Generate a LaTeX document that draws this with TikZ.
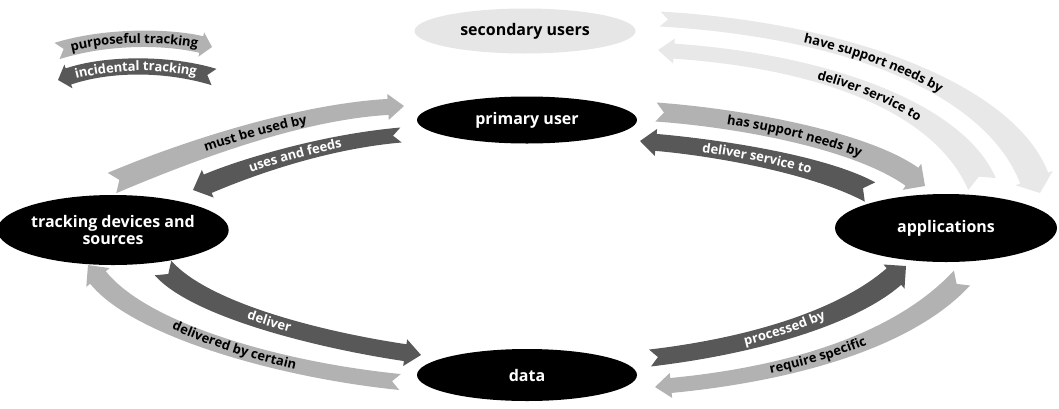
\documentclass[tikz,border=0pt]{standalone}
\usepackage{fontspec}
\setmainfont{Open Sans}
\usetikzlibrary{calc,decorations.text,shapes.geometric}
\definecolor{dk}{HTML}{585858}
\definecolor{md}{HTML}{B2B2B2}
\definecolor{lt}{HTML}{E8E8E8}
\definecolor{sc}{HTML}{E6E6E6}
\tikzset{
  ell/.style={ellipse, fill=black, text=white, inner sep=0pt, align=center,
    font=\bfseries\fontsize{16}{17}\selectfont},
}
\newcommand\rfont{\bfseries\fontsize{13}{13}\selectfont}
\def\hl{16pt}\def\bb{5pt}\def\nd{8pt}
\def\myLind{0pt}\def\myRind{0pt}
% ribbon outline: #1 colour, #2..#5 coordinates from tail to tip, #6 tail width, #7 head width
\newcommand\ribshape[7]{%
  \coordinate (hb) at ($(#5)!\hl!(#4)$);
  \fill[#1] ($(#2)!0.5*#6!90:(#3)$) .. controls ($(#3)!0.5*#6!-90:(#2)$) and ($(#4)!0.5*#7!90:(hb)$) .. ($(hb)!0.5*#7!-90:(#4)$)
    -- ($(hb)!0.5*#7+\bb!-90:(#4)$) -- (#5) -- ($(hb)!0.5*#7+\bb!90:(#4)$) -- ($(hb)!0.5*#7!90:(#4)$)
    .. controls ($(#4)!0.5*#7!-90:(hb)$) and ($(#3)!0.5*#6!90:(#2)$) .. ($(#2)!0.5*#6!-90:(#3)$)
    -- ($(#2)!\nd!(#3)$) -- cycle;
}
\newcommand\ribtext[3]{%
  \path[decorate, decoration={text along path, raise=-4pt,
    text align={center, left indent=\myLind, right indent=\myRind},
    text={|\rfont\color{#1}|#2}}] (q0) .. controls (q1) and (q2) .. (q3);
}
% points given left to right (text direction); #8 width at p0, #9 width at p3
\newcommand\ribF[9]{% head at p3
  \coordinate (q0) at #4; \coordinate (q1) at #5; \coordinate (q2) at #6; \coordinate (q3) at #7;
  \ribshape{#1}{q0}{q1}{q2}{q3}{#8}{#9}
  \ribtext{#2}{#3}{}
}
\newcommand\ribB[9]{% head at p0
  \coordinate (q0) at #4; \coordinate (q1) at #5; \coordinate (q2) at #6; \coordinate (q3) at #7;
  \ribshape{#1}{q3}{q2}{q1}{q0}{#9}{#8}
  \ribtext{#2}{#3}{}
}
\begin{document}
\begin{tikzpicture}[x=1pt,y=-1pt]
\useasboundingbox (0,0) rectangle (1059,408);
% nodes
\node[ell, fill=sc, text=black, minimum width=221pt, minimum height=45pt] (sec) at (525,31) {secondary users};
\node[ell, minimum width=220pt, minimum height=47pt] (pu) at (527,120) {primary user};
\node[ell, minimum width=224pt, minimum height=70pt] (td) at (113,230) {tracking devices and\\sources};
\node[ell, minimum width=222pt, minimum height=68pt] (ap) at (946,228) {applications};
\node[ell, minimum width=220pt, minimum height=52pt] (da) at (527,375) {data};
% legend
\begingroup
\def\hl{11pt}\def\bb{4pt}\def\nd{7pt}
\ribF{md}{black}{purposeful tracking}{(57,51)}{(105,36)}{(165,36)}{(212,47)}{17pt}{17pt}
\ribB{dk}{white}{incidental tracking}{(58,80)}{(108,63)}{(168,63)}{(214,77)}{17pt}{17pt}
\endgroup
% main ribbons
\ribF{md}{black}{must be used by}{(112,183)}{(190,150)}{(300,112)}{(404,106)}{22pt}{16pt}
\ribB{dk}{white}{uses and feeds}{(193,190)}{(240,170)}{(320,142)}{(401,135)}{20pt}{15pt}
\ribF{md}{black}{has support needs by}{(656,112)}{(740,118)}{(860,140)}{(925,186)}{19pt}{22pt}
\ribB{dk}{white}{deliver service to}{(640,141)}{(720,148)}{(820,165)}{(870,192)}{17pt}{22pt}
\ribF{lt}{black}{have support needs by}{(660,19)}{(850,30)}{(1000,90)}{(1040,193)}{15pt}{30pt}
\begingroup\def\myLind{70pt}
\ribB{lt}{black}{deliver service to}{(658,50)}{(830,62)}{(950,110)}{(982,184)}{15pt}{30pt}
\endgroup
\begingroup\def\myRind{35pt}
\ribF{dk}{white}{deliver}{(163,268)}{(200,310)}{(320,340)}{(421,355)}{22pt}{17pt}
\endgroup
\ribB{md}{black}{delivered by certain}{(88,265)}{(140,330)}{(280,370)}{(400,382)}{20pt}{16pt}
\ribF{dk}{white}{processed by}{(650,358)}{(760,345)}{(850,315)}{(906,266)}{17pt}{22pt}
\ribB{md}{black}{require specific}{(655,387)}{(780,375)}{(900,345)}{(962,278)}{15pt}{22pt}
\end{tikzpicture}
\end{document}
